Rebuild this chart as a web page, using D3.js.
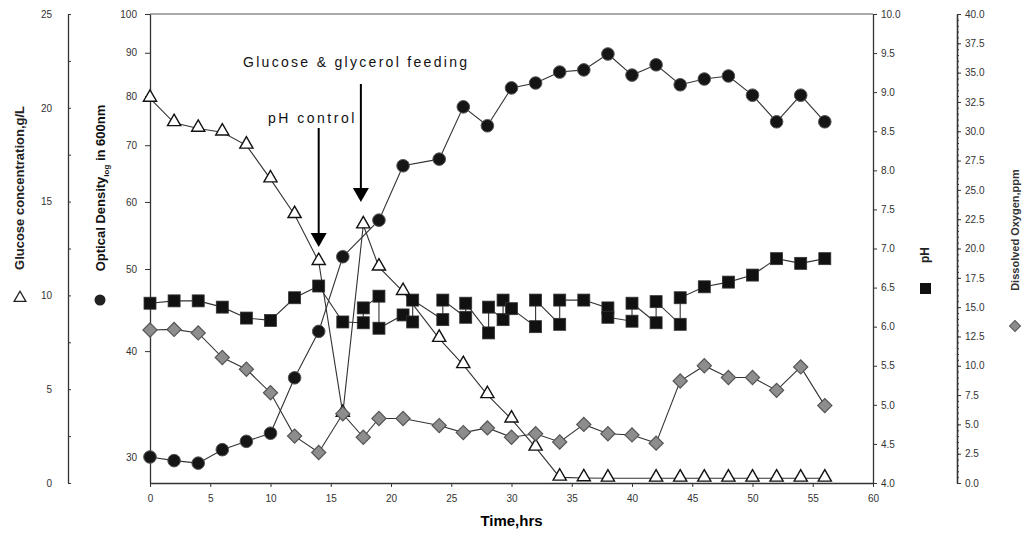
<!DOCTYPE html>
<html>
<head>
<meta charset="utf-8">
<script src="https://cdn.jsdelivr.net/npm/d3@7"></script>
<style>
  body { margin: 0; background: #fff; }
  svg { display: block; font-family: "Liberation Sans", Arial, sans-serif; }
  .tick text { fill: #333; font-size: 10px; }
</style>
</head>
<body>
<script>
// values
var odTime  = [0,2,4,6,8,10,12,14,16,19,21,24,26,28,30,32,34,36,38,40,42,44,46,48,50,52,54,56];
var odValue = [30.0,29.7,29.5,30.6,31.3,32.0,37.2,42.2,51.7,57.1,66.2,67.4,77.7,73.8,81.8,82.9,85.4,85.9,89.7,84.7,87.1,82.5,83.8,84.5,80.2,74.6,80.2,74.6];

var gluTime  = [0,2,4,6,8,10,12,14,16,17.7,19,21,24,26,28,30,32,34,36,38,42,44,46,48,50,52,54,56];
var gluValue = [20.5,19.2,18.9,18.7,18.0,16.2,14.3,11.8,3.7,13.75,11.5,10.2,7.7,6.3,4.7,3.4,1.9,0.3,0.27,0.25,0.25,0.25,0.25,0.25,0.25,0.25,0.25,0.25];

var doTime  = [0,2,4,6,8,10,12,14,16,17.7,19,21,24,26,28,30,32,34,36,38,40,42,44,46,48,50,52,54,56];
var doValue = [13.05,13.1,12.8,10.7,9.7,7.7,4.0,2.6,5.9,3.9,5.5,5.5,4.9,4.3,4.7,3.9,4.2,3.5,5.0,4.2,4.1,3.4,8.7,10.0,9.0,9.0,7.9,9.9,6.6];

var phTime  = [0,2,4,6,8,10,12,14,16,17.7,17.7,19,19,21,21.8,21.8,24.3,24.3,26.2,26.2,28.1,28.1,29.3,29.3,30,32,32,34,34,36,38,38,40,40,42,42,44,44,46,48,50,52,54,56];
var phValue = [6.30,6.33,6.33,6.25,6.11,6.08,6.37,6.52,6.06,6.05,6.24,6.39,5.98,6.15,6.06,6.34,6.09,6.34,6.12,6.30,5.92,6.25,6.09,6.34,6.23,6.0,6.34,6.03,6.34,6.34,6.24,6.12,6.07,6.30,6.05,6.32,6.03,6.37,6.51,6.57,6.66,6.87,6.81,6.87];

var xTicks   = [0,5,10,15,20,25,30,35,40,45,50,55,60];
var odTicks  = [30,40,50,60,70,80,90,100];
var gluTicks = [0,5,10,15,20,25];
var phTicks  = [4,4.5,5,5.5,6,6.5,7,7.5,8,8.5,9,9.5,10];
var doTicks  = [0,2.5,5,7.5,10,12.5,15,17.5,20,22.5,25,27.5,30,32.5,35,37.5,40];

var W = 1022, H = 535;
var plotTop = 14, plotBottom = 483;

var svg = d3.select('body').append('svg')
    .attr('width', W)
    .attr('height', H);

var x = d3.scaleLinear().domain([0, 60]).range([150, 873]);
var yOD  = d3.scaleLog().domain([27.95, 100]).range([plotBottom, plotTop]);
var yGlu = d3.scaleLinear().domain([0, 25]).range([plotBottom, plotTop]);
var yPH  = d3.scaleLinear().domain([4, 10]).range([plotBottom, plotTop]);
var yDO  = d3.scaleLinear().domain([0, 40]).range([plotBottom, plotTop]);

function styleAxis(g) {
  g.selectAll('path').attr('stroke', '#333').attr('stroke-width', 1.3);
  g.selectAll('line').attr('stroke', '#333');
}

// frame top line
svg.append('line')
   .attr('x1', 150).attr('x2', 873).attr('y1', plotTop).attr('y2', plotTop)
   .attr('stroke', '#555').attr('stroke-width', 1.2);

// x axis
svg.append('g')
   .attr('transform', 'translate(0,' + plotBottom + ')')
   .call(d3.axisBottom(x).tickValues(xTicks).tickSize(4).tickSizeOuter(0).tickPadding(8))
   .call(styleAxis);

// OD axis (log)
svg.append('g')
   .attr('transform', 'translate(150,0)')
   .call(d3.axisLeft(yOD).tickValues(odTicks).tickFormat(d3.format('d')).tickSize(5).tickSizeOuter(0).tickPadding(8))
   .call(styleAxis);

// glucose axis
svg.append('g')
   .attr('transform', 'translate(68,0)')
   .call(d3.axisRight(yGlu).tickValues(d3.range(0, 25.1, 2.5)).tickSize(3).tickSizeOuter(0).tickFormat(''))
   .call(styleAxis);
svg.append('g')
   .attr('transform', 'translate(68,0)')
   .call(d3.axisLeft(yGlu).tickValues(gluTicks).tickSize(0).tickPadding(16))
   .call(g => g.select('.domain').remove());

// pH axis
svg.append('g')
   .attr('transform', 'translate(873,0)')
   .call(d3.axisRight(yPH).tickValues(phTicks).tickFormat(d3.format('.1f')).tickSize(4).tickSizeOuter(0).tickPadding(4))
   .call(styleAxis);

// DO axis
svg.append('g')
   .attr('transform', 'translate(957,0)')
   .call(d3.axisRight(yDO).tickValues(d3.range(0, 40.01, 0.5)).tickSize(2).tickSizeOuter(0).tickFormat(''))
   .call(styleAxis);
svg.append('g')
   .attr('transform', 'translate(957,0)')
   .call(d3.axisRight(yDO).tickValues(doTicks).tickFormat(d3.format('.1f')).tickSize(4).tickSizeOuter(0).tickPadding(4))
   .call(styleAxis);

// line series
var lineStroke = '#333';

function drawLine(xs, ys, yScale) {
  var pts = xs.map((t, i) => [x(t), yScale(ys[i])]);
  svg.append('path')
     .attr('d', d3.line()(pts))
     .attr('fill', 'none')
     .attr('stroke', lineStroke)
     .attr('stroke-width', 1.1);
  return pts;
}

var doPts  = drawLine(doTime, doValue, yDO);
var phPts  = drawLine(phTime, phValue, yPH);
var odPts  = drawLine(odTime, odValue, yOD);
var gluPts = drawLine(gluTime, gluValue, yGlu);

// markers
svg.append('g').selectAll('rect')
   .data(phPts).enter().append('rect')
   .attr('x', d => d[0] - 6).attr('y', d => d[1] - 6)
   .attr('width', 12).attr('height', 12)
   .attr('fill', '#111').attr('stroke', '#333').attr('stroke-width', 0.8);

svg.append('g').selectAll('circle')
   .data(odPts).enter().append('circle')
   .attr('cx', d => d[0]).attr('cy', d => d[1]).attr('r', 6.3)
   .attr('fill', '#151515').attr('stroke', '#555').attr('stroke-width', 1);

svg.append('g').selectAll('path')
   .data(gluPts).enter().append('path')
   .attr('d', d3.symbol().type(d3.symbolTriangle).size(75))
   .attr('transform', d => 'translate(' + d[0] + ',' + (d[1] - 1) + ')')
   .attr('fill', '#fff').attr('stroke', '#111').attr('stroke-width', 1.4);

// diamonds on top (they hide the glucose dip at 16 h)
svg.append('g').selectAll('path')
   .data(doPts).enter().append('path')
   .attr('d', d3.symbol().type(d3.symbolSquare).size(100))
   .attr('transform', d => 'translate(' + d[0] + ',' + d[1] + ') rotate(45)')
   .attr('fill', '#8d8d8d').attr('stroke', '#555').attr('stroke-width', 1.2);

// annotations
function arrow(xp, y1, y2) {
  svg.append('line')
     .attr('x1', xp).attr('x2', xp).attr('y1', y1).attr('y2', y2 - 12)
     .attr('stroke', '#000').attr('stroke-width', 2);
  svg.append('path')
     .attr('d', 'M' + (xp - 8) + ',' + (y2 - 14) + 'L' + (xp + 8) + ',' + (y2 - 14) + 'L' + xp + ',' + y2 + 'Z')
     .attr('fill', '#000');
}
arrow(x(17.5), 84, 202);
arrow(x(14), 128, 247);

svg.append('text')
   .attr('x', 243).attr('y', 67)
   .attr('font-size', 14).attr('letter-spacing', 2.3).attr('fill', '#111')
   .text('Glucose & glycerol feeding');
svg.append('text')
   .attr('x', 268).attr('y', 123)
   .attr('font-size', 14).attr('letter-spacing', 2.5).attr('fill', '#111')
   .text('pH control');

// axis titles
svg.append('text')
   .attr('x', x(30)).attr('y', 526)
   .attr('text-anchor', 'middle').attr('font-size', 15).attr('font-weight', 'bold')
   .text('Time,hrs');

svg.append('text')
   .attr('transform', 'translate(24,188) rotate(-90)')
   .attr('text-anchor', 'middle').attr('font-size', 13).attr('font-weight', 'bold').attr('fill', '#222')
   .text('Glucose concentration,g/L');
svg.append('path')
   .attr('d', d3.symbol().type(d3.symbolTriangle).size(60))
   .attr('transform', 'translate(20,298)')
   .attr('fill', '#fff').attr('stroke', '#222').attr('stroke-width', 1.3);

var odTitle = svg.append('text')
   .attr('transform', 'translate(105,188) rotate(-90)')
   .attr('text-anchor', 'middle').attr('font-size', 13).attr('font-weight', 'bold').attr('fill', '#111');
odTitle.append('tspan').text('Optical Density');
odTitle.append('tspan').attr('font-size', 8).attr('dy', 4).text('log');
odTitle.append('tspan').attr('dy', -4).text(' in 600nm');
svg.append('circle')
   .attr('cx', 100).attr('cy', 300).attr('r', 5.5)
   .attr('fill', '#222');

svg.append('text')
   .attr('transform', 'translate(929,255) rotate(-90)')
   .attr('text-anchor', 'middle').attr('font-size', 12).attr('font-weight', 'bold').attr('fill', '#222')
   .text('pH');
svg.append('rect')
   .attr('x', 920).attr('y', 283).attr('width', 11).attr('height', 11)
   .attr('fill', '#111');

svg.append('text')
   .attr('transform', 'translate(1019,230) rotate(-90)')
   .attr('text-anchor', 'middle').attr('font-size', 11).attr('font-weight', 'bold').attr('fill', '#333')
   .text('Dissolved Oxygen,ppm');
svg.append('path')
   .attr('d', d3.symbol().type(d3.symbolSquare).size(60))
   .attr('transform', 'translate(1015,326) rotate(45)')
   .attr('fill', '#8d8d8d').attr('stroke', '#555');
</script>
</body>
</html>
